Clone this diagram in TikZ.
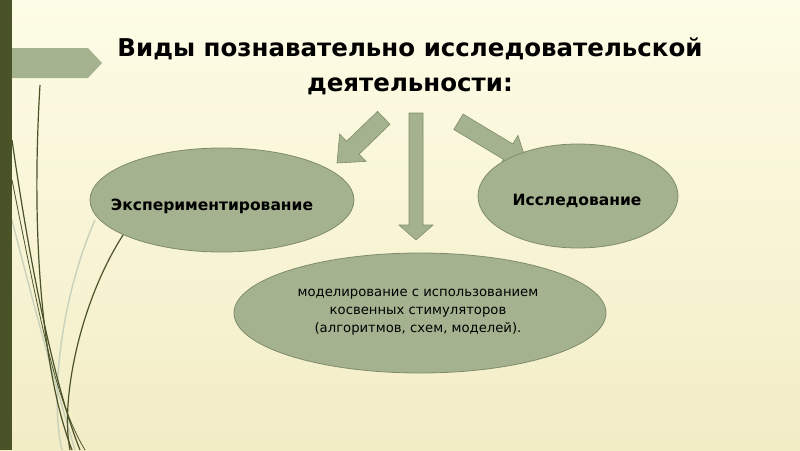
\documentclass[tikz,border=0pt]{standalone}
\usepackage{fontspec}
\setmainfont{DejaVu Sans}
\begin{document}
\begin{tikzpicture}[x=1pt,y=-1pt,
  oval/.style={ellipse, draw=ovalline, fill=ovalfill, line width=0.8pt},
  blockarrow/.style={fill=ovalfill, draw=ovalline, line width=0.6pt},
  strand/.style={line width=1.2pt, draw=barcol},
  lstrand/.style={line width=1.4pt, draw=ovalfill!60}]
\usetikzlibrary{shapes.geometric}
\definecolor{ovalfill}{HTML}{A4B28F}
\definecolor{ovalline}{HTML}{7F8C6C}
\definecolor{barcol}{HTML}{4A5228}
\definecolor{bgtop}{HTML}{FDFCE6}
\definecolor{bgbot}{HTML}{F3EDC6}
\useasboundingbox (0,0) rectangle (800,450);
\shade[top color=bgtop, bottom color=bgbot] (0,0) rectangle (800,450);
% decorative strands
\draw[lstrand] (12,220) .. controls (40,330) and (60,400) .. (75,450);
\draw[lstrand] (95,220) .. controls (60,300) and (50,400) .. (62,450);
\draw[strand] (12,140) .. controls (35,300) and (60,400) .. (80,450);
\draw[strand] (40,85) .. controls (30,250) and (45,380) .. (72,450);
\draw[strand] (125,232) .. controls (80,300) and (60,400) .. (70,450);
\draw[strand, line width=0.8pt] (12,180) .. controls (40,320) and (55,400) .. (85,450);
% left bar and tab
\fill[barcol] (0,0) rectangle (12,450);
\fill[ovalfill] (12,48) -- (88,48) -- (102,63) -- (88,78) -- (12,78) -- cycle;
% title
\node[font=\bfseries\fontsize{24.5}{35}\selectfont, align=center] (title) at (410,66)
  {Виды познавательно исследовательской\\деятельности:};
% arrows
\begin{scope}[shift={(337,163)}, rotate=-136]
\draw[blockarrow] (0,0) -- (-22,-19) -- (-22,-9) -- (-65,-9) -- (-65,9) -- (-22,9) -- (-22,19) -- cycle;
\end{scope}
\begin{scope}[shift={(416,240)}, rotate=-90]
\draw[blockarrow] (0,0) -- (-15,-17) -- (-15,-7) -- (-127,-7) -- (-127,7) -- (-15,7) -- (-15,17) -- cycle;
\end{scope}
\begin{scope}[shift={(527,163)}, rotate=-31]
\draw[blockarrow] (0,0) -- (-22,-19) -- (-22,-9) -- (-80,-9) -- (-80,9) -- (-22,9) -- (-22,19) -- cycle;
\end{scope}
% ovals
\node[oval, minimum width=264, minimum height=104] (exp) at (222,200) {};
\node[font=\bfseries\fontsize{15.5}{20}\selectfont] (exptxt) at (212,206) {Экспериментирование};
\node[oval, minimum width=200, minimum height=104] (res) at (578,196) {};
\node[font=\bfseries\fontsize{15.5}{20}\selectfont] (restxt) at (577,201) {Исследование};
\node[oval, minimum width=372, minimum height=120] (mod) at (420,313) {};
\node[font=\fontsize{13.2}{18}\selectfont, align=center] (modtxt) at (418,312)
  {моделирование с использованием\\косвенных стимуляторов\\(алгоритмов, схем, моделей).};
\end{tikzpicture}
\end{document}
